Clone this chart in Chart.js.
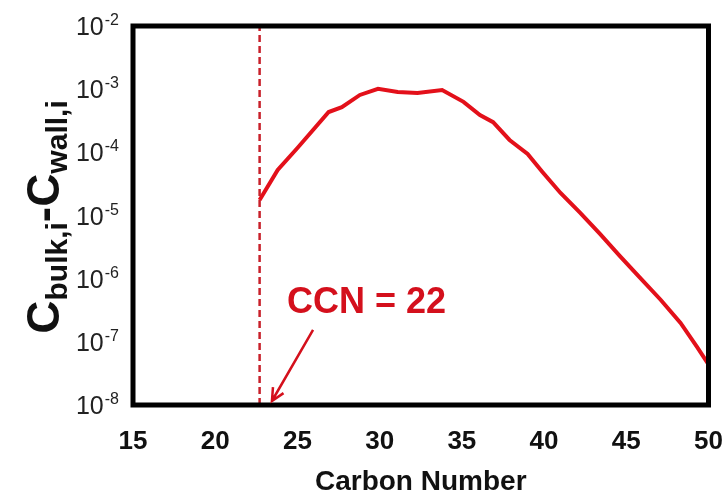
<!DOCTYPE html>
<html>
<head>
<meta charset="utf-8">
<script src="https://cdn.jsdelivr.net/npm/chart.js@4.4.1/dist/chart.umd.min.js"></script>
<style>
  body { margin: 0; background: #fff; }
  #wrap { width: 725px; height: 495px; }
</style>
</head>
<body>
<div id="wrap"><canvas id="myChart" width="725" height="495"></canvas></div>
<script>
// values
const carbonNumber = [22.7, 23.8, 25.0, 26.9, 27.7, 28.8, 29.9, 31.1, 32.3, 33.8, 35.1, 36.1, 36.9, 37.9, 39.0, 39.9, 41.0, 42.2, 43.4, 44.6, 45.8, 47.1, 48.3, 49.3, 50.0];
const concDiff = [1.76e-5, 5.25e-5, 1.17e-4, 4.35e-4, 5.2e-4, 8.1e-4, 1.01e-3, 9.0e-4, 8.7e-4, 9.7e-4, 6.3e-4, 3.9e-4, 3.0e-4, 1.57e-4, 9.4e-5, 4.9e-5, 2.27e-5, 1.1e-5, 5.1e-6, 2.29e-6, 1.06e-6, 4.6e-7, 1.99e-7, 8.3e-8, 4.4e-8];
const ccnLine = 22.7;
const yTicks = [1e-2, 1e-3, 1e-4, 1e-5, 1e-6, 1e-7, 1e-8];
const yExp = ['-2', '-3', '-4', '-5', '-6', '-7', '-8'];
const xMin = 15, xMax = 50;
const ccnText = 'CCN = 22';

const FONT = '"Liberation Sans", Arial, sans-serif';

const decor = {
  id: 'decor',
  afterDraw(chart) {
    const ctx = chart.ctx;
    const a = chart.chartArea;
    const x = chart.scales.x, y = chart.scales.y;
    ctx.save();

    // black frame
    ctx.strokeStyle = '#000';
    ctx.lineWidth = 5;
    ctx.strokeRect(a.left, a.top, a.right - a.left, a.bottom - a.top);

    // y tick labels 10^n
    ctx.fillStyle = '#222';
    ctx.textAlign = 'right';
    ctx.textBaseline = 'alphabetic';
    yTicks.forEach((v, i) => {
      const py = y.getPixelForValue(v);
      ctx.font = '16px ' + FONT;
      const sw = ctx.measureText(yExp[i]).width;
      ctx.fillText(yExp[i], 119, py - 1);
      ctx.font = '25px ' + FONT;
      ctx.fillText('10', 118 - sw, py + 9);
    });

    // x axis title
    ctx.fillStyle = '#111';
    ctx.textAlign = 'center';
    ctx.font = 'bold 28px ' + FONT;
    ctx.fillText('Carbon Number', (a.left + a.right) / 2, 490);

    // y axis title with subscripts
    const parts = [
      ['C', 'bold 46px ', 0], ['bulk,i', 'bold 30px ', 8],
      ['-', 'bold 46px ', 0], ['C', 'bold 46px ', 0], ['wall,i', 'bold 30px ', 8]
    ];
    let total = 0;
    parts.forEach(p => { ctx.font = p[1] + FONT; total += ctx.measureText(p[0]).width; });
    ctx.translate(59, 217);
    ctx.rotate(-Math.PI / 2);
    ctx.textAlign = 'left';
    let cx = -total / 2;
    parts.forEach(p => {
      ctx.font = p[1] + FONT;
      ctx.fillText(p[0], cx, p[2]);
      cx += ctx.measureText(p[0]).width;
    });
    ctx.setTransform(1, 0, 0, 1, 0, 0);

    // annotation
    ctx.fillStyle = '#d4101c';
    ctx.textAlign = 'center';
    ctx.font = 'bold 36px ' + FONT;
    ctx.fillText(ccnText, x.getPixelForValue(29.2), y.getPixelForValue(4.6e-7) + 13);

    const tx = x.getPixelForValue(23.45), ty = y.getPixelForValue(1e-8) - 4;
    const sx = x.getPixelForValue(25.95), sy = y.getPixelForValue(1.55e-7);
    ctx.strokeStyle = '#d4101c';
    ctx.lineWidth = 2.5;
    ctx.beginPath();
    ctx.moveTo(sx, sy);
    ctx.lineTo(tx, ty);
    const ang = Math.atan2(ty - sy, tx - sx);
    ctx.moveTo(tx - 14 * Math.cos(ang - 0.45), ty - 14 * Math.sin(ang - 0.45));
    ctx.lineTo(tx, ty);
    ctx.lineTo(tx - 14 * Math.cos(ang + 0.45), ty - 14 * Math.sin(ang + 0.45));
    ctx.stroke();

    ctx.restore();
  }
};

const points = carbonNumber.map((c, i) => ({ x: c, y: concDiff[i] }));

new Chart(document.getElementById('myChart').getContext('2d'), {
  type: 'line',
  data: {
    datasets: [{
      data: points,
      borderColor: '#e3101a',
      borderWidth: 4,
      pointRadius: 0,
      tension: 0
    }, {
      data: [{ x: ccnLine, y: yTicks[6] }, { x: ccnLine, y: yTicks[0] }],
      borderColor: '#c8202a',
      borderWidth: 2.5,
      borderDash: [7, 4],
      pointRadius: 0
    }]
  },
  options: {
    responsive: false,
    animation: false,
    layout: { padding: { top: 26, right: 16.5, left: 0, bottom: 0 } },
    plugins: { legend: { display: false }, tooltip: { enabled: false } },
    scales: {
      x: {
        type: 'linear',
        min: xMin,
        max: xMax,
        grid: { display: false },
        border: { display: false },
        ticks: {
          stepSize: 5,
          padding: 13,
          color: '#111',
          font: { family: FONT, size: 26, weight: 'bold' }
        },
        afterFit(scale) {
          scale.height = 90;
          scale.paddingLeft = 0;
          scale.paddingRight = 0;
        }
      },
      y: {
        type: 'logarithmic',
        min: yTicks[6],
        max: yTicks[0],
        grid: { display: false },
        border: { display: false },
        ticks: { display: false },
        afterFit(scale) { scale.width = 133; }
      }
    }
  },
  plugins: [decor]
});
</script>
</body>
</html>
